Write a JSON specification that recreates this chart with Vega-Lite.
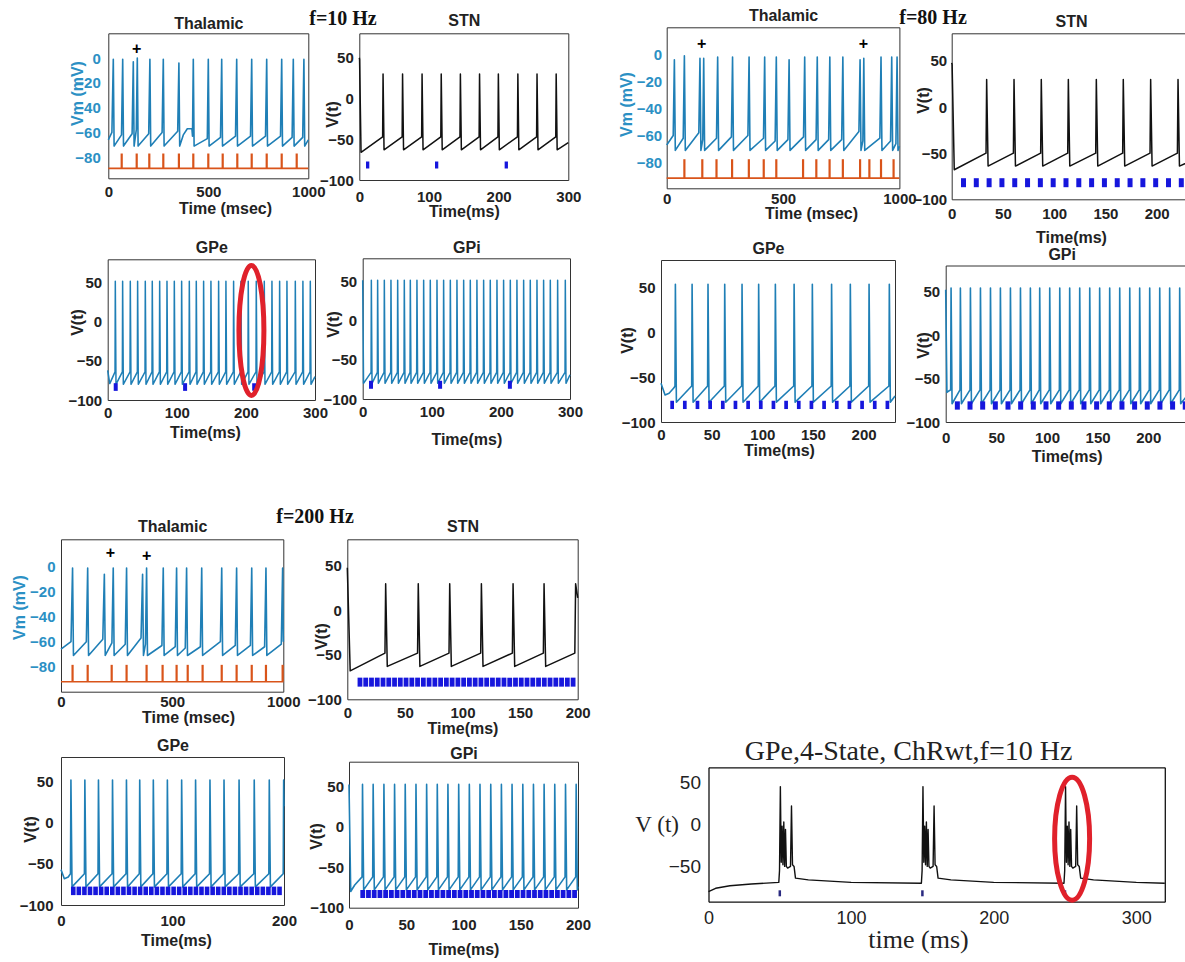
{
"$schema":"https://vega.github.io/schema/vega-lite/v6.json",
"width":1185,"height":962,"autosize":"none","padding":0,"background":"white",
"config":{"view":{"stroke":null},
"axis":{"grid":false,"ticks":false,"tickSize":0,"domainColor":"#333333","domainWidth":1,"labelFont":"Liberation Sans","labelFontSize":15,"labelFontWeight":"bold","labelColor":"#222222","labelFlush":false,"labelOverlap":false,"labelPadding":6,"titleFont":"Liberation Sans","titleFontSize":16,"titleFontWeight":"bold","titleColor":"#222222","titleBaseline":"alphabetic","titlePadding":0}},
"datasets":{
"a_th":[{"t":0,"v":-66},{"t":18,"v":-60},{"t":25,"v":-1},{"t":29,"v":-71},{"t":66,"v":-62},{"t":72,"v":-1},{"t":76,"v":-71},{"t":119,"v":-61},{"t":125,"v":-3},{"t":129,"v":-71},{"t":140,"v":-58},{"t":145,"v":0},{"t":149,"v":-71},{"t":202,"v":-61},{"t":208,"v":-1},{"t":212,"v":-71},{"t":269,"v":-60},{"t":275,"v":-1},{"t":279,"v":-71},{"t":347,"v":-59},{"t":353,"v":-4},{"t":357,"v":-71},{"t":375,"v":-62},{"t":395,"v":-57},{"t":418,"v":-57},{"t":421,"v":-63},{"t":425,"v":-1},{"t":429,"v":-71},{"t":495,"v":-65},{"t":500,"v":-1},{"t":504,"v":-71},{"t":561,"v":-64},{"t":567,"v":-1},{"t":571,"v":-71},{"t":636,"v":-63},{"t":642,"v":-1},{"t":646,"v":-71},{"t":711,"v":-63},{"t":717,"v":-1},{"t":721,"v":-71},{"t":786,"v":-63},{"t":792,"v":-1},{"t":796,"v":-71},{"t":861,"v":-63},{"t":867,"v":-1},{"t":871,"v":-71},{"t":919,"v":-64},{"t":925,"v":-1},{"t":929,"v":-71},{"t":972,"v":-64},{"t":978,"v":-1},{"t":982,"v":-71},{"t":1000,"v":-66}],
"a_th_p":[{"t":67},{"t":142},{"t":205},{"t":275},{"t":353},{"t":425},{"t":500},{"t":572},{"t":645},{"t":717},{"t":792},{"t":867},{"t":942}],
"a_th_m":[{"t":142,"v":7}],
"a_stn":[{"t":0,"v":50},{"t":0.4,"v":48},{"t":2.5,"v":-66},{"t":33.5,"v":-47},{"t":34.1,"v":30},{"t":35.5,"v":-63},{"t":61.5,"v":-47},{"t":62.1,"v":30},{"t":63.5,"v":-63},{"t":89.5,"v":-47},{"t":90.1,"v":30},{"t":91.5,"v":-63},{"t":117,"v":-47},{"t":117.6,"v":30},{"t":119,"v":-63},{"t":144.5,"v":-47},{"t":145.1,"v":30},{"t":146.5,"v":-63},{"t":172,"v":-47},{"t":172.6,"v":30},{"t":174,"v":-63},{"t":199,"v":-47},{"t":199.6,"v":30},{"t":201,"v":-63},{"t":227,"v":-47},{"t":227.6,"v":30},{"t":229,"v":-63},{"t":254.5,"v":-47},{"t":255.1,"v":30},{"t":256.5,"v":-63},{"t":282,"v":-47},{"t":282.6,"v":30},{"t":284,"v":-63},{"t":300,"v":-54}],
"a_stn_s":[{"t":12},{"t":111},{"t":211}],
"lab_a":[{"t":-23.4,"v":90,"label":"f=10 Hz"}],
"a_gpe":[{"t":0,"v":-62},{"t":3,"v":-79},{"t":10.6,"v":-64},{"t":11,"v":52},{"t":12,"v":-80},{"t":21.2,"v":-64},{"t":21.6,"v":52},{"t":22.6,"v":-80},{"t":32.3,"v":-64},{"t":32.7,"v":52},{"t":33.7,"v":-80},{"t":42.9,"v":-64},{"t":43.3,"v":52},{"t":44.3,"v":-80},{"t":54,"v":-64},{"t":54.4,"v":52},{"t":55.4,"v":-80},{"t":64.1,"v":-64},{"t":64.5,"v":52},{"t":65.5,"v":-80},{"t":74.8,"v":-64},{"t":75.2,"v":52},{"t":76.2,"v":-80},{"t":85.4,"v":-64},{"t":85.8,"v":52},{"t":86.8,"v":-80},{"t":96,"v":-64},{"t":96.4,"v":52},{"t":97.4,"v":-80},{"t":106.6,"v":-64},{"t":107,"v":52},{"t":108,"v":-80},{"t":117.7,"v":-64},{"t":118.1,"v":52},{"t":119.1,"v":-80},{"t":127.8,"v":-64},{"t":128.2,"v":52},{"t":129.2,"v":-80},{"t":138.4,"v":-64},{"t":138.8,"v":52},{"t":139.8,"v":-80},{"t":149,"v":-64},{"t":149.4,"v":52},{"t":150.4,"v":-80},{"t":160.1,"v":-64},{"t":160.5,"v":52},{"t":161.5,"v":-80},{"t":170.7,"v":-64},{"t":171.1,"v":52},{"t":172.1,"v":-80},{"t":181.8,"v":-64},{"t":182.2,"v":52},{"t":183.2,"v":-80},{"t":192.4,"v":-64},{"t":192.8,"v":52},{"t":193.8,"v":-80},{"t":203,"v":-64},{"t":203.4,"v":52},{"t":204.4,"v":-80},{"t":214.6,"v":-64},{"t":215,"v":52},{"t":216,"v":-80},{"t":226.2,"v":-64},{"t":226.6,"v":52},{"t":227.6,"v":-80},{"t":237.3,"v":-64},{"t":237.7,"v":52},{"t":238.7,"v":-80},{"t":248.4,"v":-64},{"t":248.8,"v":52},{"t":249.8,"v":-80},{"t":259,"v":-64},{"t":259.4,"v":52},{"t":260.4,"v":-80},{"t":271.1,"v":-64},{"t":271.5,"v":52},{"t":272.5,"v":-80},{"t":282.1,"v":-64},{"t":282.5,"v":52},{"t":283.5,"v":-80},{"t":292.8,"v":-64},{"t":293.2,"v":52},{"t":294.2,"v":-80},{"t":300,"v":-70}],
"a_gpe_s":[{"t":11.6},{"t":112},{"t":212}],
"a_gpe_e":[{"t":208,"v":-11}],
"a_gpi":[{"t":0,"v":52},{"t":1.2,"v":-80},{"t":12.1,"v":-66},{"t":12.5,"v":52},{"t":13.5,"v":-80},{"t":21.2,"v":-66},{"t":21.6,"v":52},{"t":22.6,"v":-80},{"t":30.9,"v":-66},{"t":31.3,"v":52},{"t":32.3,"v":-80},{"t":40.5,"v":-66},{"t":40.9,"v":52},{"t":41.9,"v":-80},{"t":50.2,"v":-66},{"t":50.6,"v":52},{"t":51.6,"v":-80},{"t":59.8,"v":-66},{"t":60.2,"v":52},{"t":61.2,"v":-80},{"t":68.5,"v":-66},{"t":68.9,"v":52},{"t":69.9,"v":-80},{"t":78.1,"v":-66},{"t":78.5,"v":52},{"t":79.5,"v":-80},{"t":87.8,"v":-66},{"t":88.2,"v":52},{"t":89.2,"v":-80},{"t":97.4,"v":-66},{"t":97.8,"v":52},{"t":98.8,"v":-80},{"t":107.1,"v":-66},{"t":107.5,"v":52},{"t":108.5,"v":-80},{"t":116.7,"v":-66},{"t":117.1,"v":52},{"t":118.1,"v":-80},{"t":126.4,"v":-66},{"t":126.8,"v":52},{"t":127.8,"v":-80},{"t":136,"v":-66},{"t":136.4,"v":52},{"t":137.4,"v":-80},{"t":145.7,"v":-66},{"t":146.1,"v":52},{"t":147.1,"v":-80},{"t":155.3,"v":-66},{"t":155.7,"v":52},{"t":156.7,"v":-80},{"t":164.9,"v":-66},{"t":165.3,"v":52},{"t":166.3,"v":-80},{"t":174.6,"v":-66},{"t":175,"v":52},{"t":176,"v":-80},{"t":184.2,"v":-66},{"t":184.6,"v":52},{"t":185.6,"v":-80},{"t":193.9,"v":-66},{"t":194.3,"v":52},{"t":195.3,"v":-80},{"t":203.5,"v":-66},{"t":203.9,"v":52},{"t":204.9,"v":-80},{"t":213.2,"v":-66},{"t":213.6,"v":52},{"t":214.6,"v":-80},{"t":222.8,"v":-66},{"t":223.2,"v":52},{"t":224.2,"v":-80},{"t":232.5,"v":-66},{"t":232.9,"v":52},{"t":233.9,"v":-80},{"t":242.1,"v":-66},{"t":242.5,"v":52},{"t":243.5,"v":-80},{"t":251.8,"v":-66},{"t":252.2,"v":52},{"t":253.2,"v":-80},{"t":261.4,"v":-66},{"t":261.8,"v":52},{"t":262.8,"v":-80},{"t":271.1,"v":-66},{"t":271.5,"v":52},{"t":272.5,"v":-80},{"t":281.7,"v":-66},{"t":282.1,"v":52},{"t":283.1,"v":-80},{"t":292.8,"v":-66},{"t":293.2,"v":52},{"t":294.2,"v":-80},{"t":300,"v":-69}],
"a_gpi_s":[{"t":12},{"t":112},{"t":213}],
"b_th":[{"t":0,"v":-67},{"t":28,"v":-60},{"t":33,"v":-4},{"t":37,"v":-71},{"t":71,"v":-62},{"t":76,"v":-1},{"t":80,"v":-71},{"t":138,"v":-58},{"t":143,"v":-3},{"t":147,"v":-71},{"t":155,"v":-63},{"t":159,"v":-3},{"t":163,"v":-71},{"t":214,"v":-62},{"t":219,"v":-2},{"t":223,"v":-71},{"t":278,"v":-61},{"t":283,"v":-2},{"t":287,"v":-71},{"t":349,"v":-60},{"t":354,"v":-2},{"t":358,"v":-71},{"t":416,"v":-62},{"t":421,"v":-2},{"t":425,"v":-71},{"t":466,"v":-64},{"t":471,"v":-2},{"t":475,"v":-71},{"t":521,"v":-63},{"t":526,"v":-4},{"t":530,"v":-71},{"t":588,"v":-61},{"t":593,"v":-2},{"t":597,"v":-71},{"t":642,"v":-63},{"t":647,"v":-2},{"t":651,"v":-71},{"t":696,"v":-63},{"t":701,"v":-2},{"t":705,"v":-71},{"t":752,"v":-63},{"t":757,"v":-2},{"t":761,"v":-71},{"t":826,"v":-57},{"t":831,"v":-4},{"t":835,"v":-71},{"t":843,"v":-64},{"t":847,"v":-3},{"t":851,"v":-71},{"t":916,"v":-62},{"t":921,"v":-2},{"t":925,"v":-71},{"t":962,"v":-64},{"t":967,"v":-2},{"t":971,"v":-71},{"t":985,"v":-66},{"t":990,"v":-2},{"t":994,"v":-71},{"t":1000,"v":-68}],
"b_th_p":[{"t":76},{"t":153},{"t":214},{"t":281},{"t":353},{"t":417},{"t":471},{"t":586},{"t":643},{"t":700},{"t":757},{"t":831},{"t":871},{"t":921},{"t":975}],
"b_th_m":[{"t":150,"v":8},{"t":845,"v":8}],
"b_stn":[{"t":0,"v":48},{"t":0.4,"v":46},{"t":2.5,"v":-68},{"t":33.5,"v":-50},{"t":34.1,"v":30},{"t":35.5,"v":-64},{"t":60.2,"v":-50},{"t":60.8,"v":30},{"t":62.2,"v":-64},{"t":86.8,"v":-50},{"t":87.4,"v":30},{"t":88.8,"v":-64},{"t":113.2,"v":-50},{"t":113.8,"v":30},{"t":115.2,"v":-64},{"t":140.5,"v":-50},{"t":141.1,"v":30},{"t":142.5,"v":-64},{"t":166.8,"v":-50},{"t":167.4,"v":30},{"t":168.8,"v":-64},{"t":193.5,"v":-50},{"t":194.1,"v":30},{"t":195.5,"v":-64},{"t":220.2,"v":-50},{"t":220.8,"v":30},{"t":222.2,"v":-64},{"t":240,"v":-55}],
"b_stn_s":[{"t":11.5},{"t":24},{"t":36.5},{"t":49},{"t":61.5},{"t":74},{"t":86.5},{"t":99},{"t":111.5},{"t":124},{"t":136.5},{"t":149},{"t":161.5},{"t":174},{"t":186.5},{"t":199},{"t":211.5},{"t":224},{"t":236.5}],
"lab_b":[{"t":-18.2,"v":90,"label":"f=80 Hz"}],
"b_gpe":[{"t":0,"v":-57},{"t":4,"v":-70},{"t":8,"v":-68},{"t":12.8,"v":-62},{"t":13.8,"v":-60},{"t":14.2,"v":53},{"t":15.2,"v":-78},{"t":30.3,"v":-60},{"t":30.7,"v":53},{"t":31.7,"v":-78},{"t":46,"v":-60},{"t":46.4,"v":53},{"t":47.4,"v":-78},{"t":62.5,"v":-60},{"t":62.9,"v":53},{"t":63.9,"v":-78},{"t":79.6,"v":-60},{"t":80,"v":53},{"t":81,"v":-78},{"t":96,"v":-60},{"t":96.4,"v":53},{"t":97.4,"v":-78},{"t":112.5,"v":-60},{"t":112.9,"v":53},{"t":113.9,"v":-78},{"t":131,"v":-60},{"t":131.4,"v":53},{"t":132.4,"v":-78},{"t":149,"v":-60},{"t":149.4,"v":53},{"t":150.4,"v":-78},{"t":168,"v":-60},{"t":168.4,"v":53},{"t":169.4,"v":-78},{"t":186.5,"v":-60},{"t":186.9,"v":53},{"t":187.9,"v":-78},{"t":205,"v":-60},{"t":205.4,"v":53},{"t":206.4,"v":-78},{"t":225,"v":-60},{"t":225.4,"v":53},{"t":226.4,"v":-78},{"t":231,"v":-71}],
"b_gpe_s":[{"t":11},{"t":23.5},{"t":36},{"t":48.5},{"t":61},{"t":73.5},{"t":86},{"t":98.5},{"t":111},{"t":123.5},{"t":136},{"t":148.5},{"t":161},{"t":173.5},{"t":186},{"t":198.5},{"t":211},{"t":223.5}],
"b_gpi":[{"t":0,"v":52},{"t":1.2,"v":-66},{"t":3.5,"v":-64},{"t":4.9,"v":-63},{"t":5.3,"v":54},{"t":6.3,"v":-79},{"t":14.1,"v":-63},{"t":14.5,"v":54},{"t":15.5,"v":-79},{"t":24,"v":-63},{"t":24.4,"v":54},{"t":25.4,"v":-79},{"t":33.9,"v":-63},{"t":34.3,"v":54},{"t":35.3,"v":-79},{"t":43.8,"v":-63},{"t":44.2,"v":54},{"t":45.2,"v":-79},{"t":53.6,"v":-63},{"t":54,"v":54},{"t":55,"v":-79},{"t":63.5,"v":-63},{"t":63.9,"v":54},{"t":64.9,"v":-79},{"t":73.4,"v":-63},{"t":73.8,"v":54},{"t":74.8,"v":-79},{"t":83.2,"v":-63},{"t":83.6,"v":54},{"t":84.6,"v":-79},{"t":92.4,"v":-63},{"t":92.8,"v":54},{"t":93.8,"v":-79},{"t":102.3,"v":-63},{"t":102.7,"v":54},{"t":103.7,"v":-79},{"t":112.2,"v":-63},{"t":112.6,"v":54},{"t":113.6,"v":-79},{"t":122,"v":-63},{"t":122.4,"v":54},{"t":123.4,"v":-79},{"t":131.9,"v":-63},{"t":132.3,"v":54},{"t":133.3,"v":-79},{"t":141.8,"v":-63},{"t":142.2,"v":54},{"t":143.2,"v":-79},{"t":151.6,"v":-63},{"t":152,"v":54},{"t":153,"v":-79},{"t":161.5,"v":-63},{"t":161.9,"v":54},{"t":162.9,"v":-79},{"t":171.4,"v":-63},{"t":171.8,"v":54},{"t":172.8,"v":-79},{"t":181.3,"v":-63},{"t":181.7,"v":54},{"t":182.7,"v":-79},{"t":191.1,"v":-63},{"t":191.5,"v":54},{"t":192.5,"v":-79},{"t":201,"v":-63},{"t":201.4,"v":54},{"t":202.4,"v":-79},{"t":210.9,"v":-63},{"t":211.3,"v":54},{"t":212.3,"v":-79},{"t":220.7,"v":-63},{"t":221.1,"v":54},{"t":222.1,"v":-79},{"t":230.6,"v":-63},{"t":231,"v":54},{"t":232,"v":-79},{"t":240,"v":-67}],
"b_gpi_s":[{"t":11.5},{"t":24},{"t":36.5},{"t":49},{"t":61.5},{"t":74},{"t":86.5},{"t":99},{"t":111.5},{"t":124},{"t":136.5},{"t":149},{"t":161.5},{"t":174},{"t":186.5},{"t":199},{"t":211.5},{"t":224},{"t":236.5}],
"c_th":[{"t":0,"v":-66},{"t":45,"v":-60},{"t":52,"v":-1},{"t":56,"v":-71},{"t":114,"v":-60},{"t":120,"v":-1},{"t":124,"v":-71},{"t":188,"v":-58},{"t":195,"v":-6},{"t":199,"v":-71},{"t":229,"v":-61},{"t":235,"v":-1},{"t":239,"v":-71},{"t":289,"v":-62},{"t":295,"v":-1},{"t":299,"v":-71},{"t":360,"v":-57},{"t":367,"v":-6},{"t":371,"v":-71},{"t":380,"v":-62},{"t":385,"v":-1},{"t":389,"v":-71},{"t":454,"v":-63},{"t":460,"v":-1},{"t":464,"v":-71},{"t":514,"v":-64},{"t":520,"v":-1},{"t":524,"v":-71},{"t":559,"v":-65},{"t":565,"v":-1},{"t":569,"v":-71},{"t":627,"v":-64},{"t":633,"v":-1},{"t":637,"v":-71},{"t":717,"v":-60},{"t":723,"v":-1},{"t":727,"v":-71},{"t":784,"v":-63},{"t":790,"v":-1},{"t":794,"v":-71},{"t":852,"v":-63},{"t":858,"v":-1},{"t":862,"v":-71},{"t":916,"v":-64},{"t":922,"v":-1},{"t":926,"v":-71},{"t":991,"v":-62},{"t":997,"v":-1},{"t":1000,"v":-60}],
"c_th_p":[{"t":52},{"t":120},{"t":228},{"t":295},{"t":385},{"t":457},{"t":520},{"t":570},{"t":637},{"t":723},{"t":790},{"t":858},{"t":922},{"t":997}],
"c_th_m":[{"t":222,"v":10.8},{"t":385,"v":8.6}],
"c_stn":[{"t":0,"v":48},{"t":0.4,"v":30},{"t":2.5,"v":-68},{"t":32.7,"v":-48},{"t":33.3,"v":30},{"t":34.7,"v":-63},{"t":61,"v":-48},{"t":61.6,"v":30},{"t":63,"v":-63},{"t":88.3,"v":-48},{"t":88.9,"v":30},{"t":90.3,"v":-63},{"t":115.8,"v":-48},{"t":116.4,"v":30},{"t":117.8,"v":-63},{"t":143.3,"v":-48},{"t":143.9,"v":30},{"t":145.3,"v":-63},{"t":170.2,"v":-48},{"t":170.8,"v":30},{"t":172.2,"v":-63},{"t":197.5,"v":-48},{"t":198.2,"v":30},{"t":200,"v":14}],
"c_s":[{"t":11},{"t":16},{"t":21},{"t":26},{"t":31},{"t":36},{"t":41},{"t":46},{"t":51},{"t":56},{"t":61},{"t":66},{"t":71},{"t":76},{"t":81},{"t":86},{"t":91},{"t":96},{"t":101},{"t":106},{"t":111},{"t":116},{"t":121},{"t":126},{"t":131},{"t":136},{"t":141},{"t":146},{"t":151},{"t":156},{"t":161},{"t":166},{"t":171},{"t":176},{"t":181},{"t":186},{"t":191},{"t":196}],
"lab_c":[{"t":-28,"v":98,"label":"f=200 Hz"}],
"c_gpe":[{"t":0,"v":-57},{"t":3,"v":-68},{"t":6.5,"v":-66},{"t":8.5,"v":-62},{"t":8.9,"v":52},{"t":9.9,"v":-78},{"t":21,"v":-62},{"t":21.4,"v":52},{"t":22.4,"v":-78},{"t":33.2,"v":-62},{"t":33.6,"v":52},{"t":34.6,"v":-78},{"t":45.8,"v":-62},{"t":46.2,"v":52},{"t":47.2,"v":-78},{"t":58.3,"v":-62},{"t":58.7,"v":52},{"t":59.7,"v":-78},{"t":70.2,"v":-62},{"t":70.6,"v":52},{"t":71.6,"v":-78},{"t":82.4,"v":-62},{"t":82.8,"v":52},{"t":83.8,"v":-78},{"t":95,"v":-62},{"t":95.4,"v":52},{"t":96.4,"v":-78},{"t":107.8,"v":-62},{"t":108.2,"v":52},{"t":109.2,"v":-78},{"t":120.3,"v":-62},{"t":120.7,"v":52},{"t":121.7,"v":-78},{"t":133.2,"v":-62},{"t":133.6,"v":52},{"t":134.6,"v":-78},{"t":145.8,"v":-62},{"t":146.2,"v":52},{"t":147.2,"v":-78},{"t":159.3,"v":-62},{"t":159.7,"v":52},{"t":160.7,"v":-78},{"t":172.9,"v":-62},{"t":173.3,"v":52},{"t":174.3,"v":-78},{"t":186.4,"v":-62},{"t":186.8,"v":52},{"t":187.8,"v":-78},{"t":199.3,"v":-62},{"t":199.7,"v":52},{"t":200,"v":20}],
"c_gpi":[{"t":0,"v":52},{"t":1.5,"v":-80},{"t":5,"v":-72},{"t":11.4,"v":-62},{"t":11.8,"v":52},{"t":12.8,"v":-78},{"t":20.7,"v":-62},{"t":21.1,"v":52},{"t":22.1,"v":-78},{"t":30.1,"v":-62},{"t":30.5,"v":52},{"t":31.5,"v":-78},{"t":39.4,"v":-62},{"t":39.8,"v":52},{"t":40.8,"v":-78},{"t":48.7,"v":-62},{"t":49.1,"v":52},{"t":50.1,"v":-78},{"t":58.1,"v":-62},{"t":58.5,"v":52},{"t":59.5,"v":-78},{"t":67.4,"v":-62},{"t":67.8,"v":52},{"t":68.8,"v":-78},{"t":76.7,"v":-62},{"t":77.1,"v":52},{"t":78.1,"v":-78},{"t":86,"v":-62},{"t":86.4,"v":52},{"t":87.4,"v":-78},{"t":95.4,"v":-62},{"t":95.8,"v":52},{"t":96.8,"v":-78},{"t":104.7,"v":-62},{"t":105.1,"v":52},{"t":106.1,"v":-78},{"t":114,"v":-62},{"t":114.4,"v":52},{"t":115.4,"v":-78},{"t":123.4,"v":-62},{"t":123.8,"v":52},{"t":124.8,"v":-78},{"t":132.7,"v":-62},{"t":133.1,"v":52},{"t":134.1,"v":-78},{"t":142,"v":-62},{"t":142.4,"v":52},{"t":143.4,"v":-78},{"t":151.4,"v":-62},{"t":151.8,"v":52},{"t":152.8,"v":-78},{"t":160.7,"v":-62},{"t":161.1,"v":52},{"t":162.1,"v":-78},{"t":170,"v":-62},{"t":170.4,"v":52},{"t":171.4,"v":-78},{"t":179.3,"v":-62},{"t":179.7,"v":52},{"t":180.7,"v":-78},{"t":188.7,"v":-62},{"t":189.1,"v":52},{"t":190.1,"v":-78},{"t":198,"v":-62},{"t":198.4,"v":52},{"t":199.4,"v":-78},{"t":200,"v":-74}],
"c_gpi_s":[{"t":12},{"t":17},{"t":22},{"t":27},{"t":32},{"t":37},{"t":42},{"t":47},{"t":52},{"t":57},{"t":62},{"t":67},{"t":72},{"t":77},{"t":82},{"t":87},{"t":92},{"t":97},{"t":102},{"t":107},{"t":112},{"t":117},{"t":122},{"t":127},{"t":132},{"t":137},{"t":142},{"t":147},{"t":152},{"t":157},{"t":162},{"t":167},{"t":172},{"t":177},{"t":182},{"t":187},{"t":192},{"t":197}],
"d_tr":[{"t":0,"v":-80},{"t":5,"v":-76},{"t":15,"v":-73},{"t":30,"v":-71},{"t":49.3,"v":-69},{"t":49.8,"v":-55},{"t":50.4,"v":45},{"t":51,"v":-45},{"t":51.6,"v":-2},{"t":52.2,"v":-48},{"t":52.8,"v":3},{"t":53.4,"v":-50},{"t":54,"v":-6},{"t":54.6,"v":-50},{"t":55.5,"v":-52},{"t":57.5,"v":-50},{"t":58.2,"v":22},{"t":58.9,"v":-48},{"t":60,"v":-50},{"t":61,"v":-64},{"t":70,"v":-66},{"t":100,"v":-69},{"t":149.3,"v":-70},{"t":149.8,"v":-55},{"t":150.4,"v":45},{"t":151,"v":-45},{"t":151.6,"v":-2},{"t":152.2,"v":-48},{"t":152.8,"v":3},{"t":153.4,"v":-50},{"t":154,"v":-6},{"t":154.6,"v":-50},{"t":155.5,"v":-52},{"t":157.5,"v":-50},{"t":158.2,"v":22},{"t":158.9,"v":-48},{"t":160,"v":-50},{"t":161,"v":-64},{"t":170,"v":-66},{"t":200,"v":-69},{"t":249.3,"v":-70},{"t":249.8,"v":-55},{"t":250.4,"v":45},{"t":251,"v":-45},{"t":251.6,"v":-2},{"t":252.2,"v":-48},{"t":252.8,"v":3},{"t":253.4,"v":-50},{"t":254,"v":-6},{"t":254.6,"v":-50},{"t":255.5,"v":-52},{"t":257.5,"v":-50},{"t":258.2,"v":22},{"t":258.9,"v":-48},{"t":260,"v":-50},{"t":261,"v":-64},{"t":270,"v":-66},{"t":300,"v":-69},{"t":320,"v":-70}],
"d_s":[{"t":50},{"t":150},{"t":250}],
"d_e":[{"t":255,"v":-17}]
},
"layer":[
{"layer":[
{"data":{"name":"a_th"},"mark":{"type":"line","color":"#1f7fb6","strokeWidth":1.6,"strokeJoin":"round"},"encoding":{"x":{"field":"t","type":"quantitative","scale":{"domain":[0,1000],"range":[108.3,308.3],"zero":false,"nice":false},"axis":{"orient":"bottom","offset":-783.7,"values":[0,500,1000],"format":"d","labelPadding":6,"title":"Time (msec)","titleX":225,"titleY":35.5}},"y":{"field":"v","type":"quantitative","scale":{"domain":[-97,20],"range":[178.3,33.3],"zero":false,"nice":false},"axis":{"orient":"left","offset":-108.3,"values":[-80,-60,-40,-20,0],"labelPadding":8,"labelColor":"#2b90c4","title":"Vm (mV)","titleColor":"#2b90c4","titleX":-26,"titleY":93}}}},
{"data":{"name":"a_th_p"},"mark":{"type":"rule","color":"#d9541a","strokeWidth":2.2},"encoding":{"x":{"field":"t","type":"quantitative","axis":{"orient":"top","offset":-33.3,"labels":false,"title":"Thalamic","titleY":-5.3}},"y":{"datum":-89,"axis":{"orient":"right","offset":-876.7,"labels":false,"title":null}},"y2":{"datum":-77}}},
{"data":{"values":[{}]},"mark":{"type":"rule","color":"#d9541a","strokeWidth":1.6},"encoding":{"x":{"datum":0,"axis":null},"x2":{"datum":1000},"y":{"datum":-89,"axis":null}}},
{"data":{"name":"a_th_m"},"mark":{"type":"text","text":"+","fontSize":16,"fontWeight":"bold","color":"#000000","font":"Liberation Sans"},"encoding":{"x":{"field":"t","type":"quantitative","axis":null},"y":{"field":"v","type":"quantitative","axis":null}}}
],"resolve":{"axis":{"x":"independent","y":"independent"}}},
{"layer":[
{"data":{"name":"a_stn"},"mark":{"type":"line","color":"#111111","strokeWidth":1.5,"strokeJoin":"round"},"encoding":{"x":{"field":"t","type":"quantitative","scale":{"domain":[0,300],"range":[359.3,568.3],"zero":false,"nice":false},"axis":{"orient":"bottom","offset":-782,"values":[0,100,200,300],"labelPadding":9,"title":"Time(ms)","titleY":36}},"y":{"field":"v","type":"quantitative","scale":{"domain":[-100,80],"range":[180,33.3],"zero":false,"nice":false},"axis":{"orient":"left","offset":-359.3,"values":[-100,-50,0,50],"title":"V(t)","titleX":-22,"titleY":114}}}},
{"data":{"name":"a_stn_s"},"mark":{"type":"tick","orient":"vertical","color":"#1616dc","thickness":3.3,"size":7,"opacity":1},"encoding":{"x":{"field":"t","type":"quantitative","axis":{"orient":"top","offset":-33.3,"labels":false,"title":"STN","titleY":-8.3}},"y":{"datum":-81.6,"axis":{"orient":"right","offset":-616.7,"labels":false,"title":null}}}},
{"data":{"name":"lab_a"},"mark":{"type":"text","font":"Liberation Serif","fontWeight":"bold","fontSize":20,"align":"center","baseline":"alphabetic","color":"#111111"},"encoding":{"x":{"field":"t","type":"quantitative","axis":null},"y":{"field":"v","type":"quantitative","axis":null},"text":{"field":"label"}}}
],"resolve":{"axis":{"x":"independent","y":"independent"}}},
{"layer":[
{"data":{"name":"a_gpe"},"mark":{"type":"line","color":"#1f7fb6","strokeWidth":1.5,"strokeJoin":"round"},"encoding":{"x":{"field":"t","type":"quantitative","scale":{"domain":[0,300],"range":[107.7,315],"zero":false,"nice":false},"axis":{"orient":"bottom","offset":-562,"values":[0,100,200,300],"labelPadding":5,"title":"Time(ms)","titleX":205,"titleY":37}},"y":{"field":"v","type":"quantitative","scale":{"domain":[-100,80],"range":[400,259.3],"zero":false,"nice":false},"axis":{"orient":"left","offset":-107.7,"values":[-100,-50,0,50],"title":"V(t)","titleX":-25,"titleY":322}}}},
{"data":{"name":"a_gpe_s"},"mark":{"type":"tick","orient":"vertical","color":"#1616dc","thickness":4,"size":7.7,"opacity":1},"encoding":{"x":{"field":"t","type":"quantitative","axis":{"orient":"top","offset":-259.3,"labels":false,"title":"GPe","titleY":-6.3}},"y":{"datum":-83.4,"axis":{"orient":"right","offset":-870,"labels":false,"title":null}}}},
{"data":{"name":"a_gpe_e"},"mark":{"type":"point","shape":"M0,-1C0.106,-1 0.192,-0.5523 0.192,0C0.192,0.5523 0.106,1 0,1C-0.106,1 -0.192,0.5523 -0.192,0C-0.192,-0.5523 -0.106,-1 0,-1Z","size":16900,"filled":false,"stroke":"#e0212b","strokeWidth":5,"opacity":1},"encoding":{"x":{"field":"t","type":"quantitative","axis":null},"y":{"field":"v","type":"quantitative","axis":null}}}
],"resolve":{"axis":{"x":"independent","y":"independent"}}},
{"layer":[
{"data":{"name":"a_gpi"},"mark":{"type":"line","color":"#1f7fb6","strokeWidth":1.5,"strokeJoin":"round"},"encoding":{"x":{"field":"t","type":"quantitative","scale":{"domain":[0,300],"range":[362.7,570],"zero":false,"nice":false},"axis":{"orient":"bottom","offset":-563,"values":[0,100,200,300],"labelPadding":5,"title":"Time(ms)","titleY":45}},"y":{"field":"v","type":"quantitative","scale":{"domain":[-100,80],"range":[399,258.3],"zero":false,"nice":false},"axis":{"orient":"left","offset":-362.7,"values":[-100,-50,0,50],"title":"V(t)","titleX":-24,"titleY":324}}}},
{"data":{"name":"a_gpi_s"},"mark":{"type":"tick","orient":"vertical","color":"#1616dc","thickness":4,"size":8,"opacity":1},"encoding":{"x":{"field":"t","type":"quantitative","axis":{"orient":"top","offset":-258.3,"labels":false,"title":"GPi","titleY":-5.3}},"y":{"datum":-81.8,"axis":{"orient":"right","offset":-615,"labels":false,"title":null}}}}
],"resolve":{"axis":{"x":"independent","y":"independent"}}},
{"layer":[
{"data":{"name":"b_th"},"mark":{"type":"line","color":"#1f7fb6","strokeWidth":1.6,"strokeJoin":"round"},"encoding":{"x":{"field":"t","type":"quantitative","scale":{"domain":[0,1000],"range":[666.7,899.4],"zero":false,"nice":false},"axis":{"orient":"bottom","offset":-773.7,"values":[0,500,1000],"format":"d","labelPadding":3,"title":"Time (msec)","titleX":811,"titleY":30.5}},"y":{"field":"v","type":"quantitative","scale":{"domain":[-99,20],"range":[188.3,27.3],"zero":false,"nice":false},"axis":{"orient":"left","offset":-666.7,"values":[-80,-60,-40,-20,0],"labelPadding":5,"labelColor":"#2b90c4","title":"Vm (mV)","titleColor":"#2b90c4","titleX":-35,"titleY":104}}}},
{"data":{"name":"b_th_p"},"mark":{"type":"rule","color":"#d9541a","strokeWidth":2.2},"encoding":{"x":{"field":"t","type":"quantitative","axis":{"orient":"top","offset":-27.3,"labels":false,"title":"Thalamic","titleY":-7.3}},"y":{"datum":-91.5,"axis":{"orient":"right","offset":-285.6,"labels":false,"title":null}},"y2":{"datum":-77.5}}},
{"data":{"values":[{}]},"mark":{"type":"rule","color":"#d9541a","strokeWidth":1.6},"encoding":{"x":{"datum":0,"axis":null},"x2":{"datum":1000},"y":{"datum":-91.5,"axis":null}}},
{"data":{"name":"b_th_m"},"mark":{"type":"text","text":"+","fontSize":16,"fontWeight":"bold","color":"#000000","font":"Liberation Sans"},"encoding":{"x":{"field":"t","type":"quantitative","axis":null},"y":{"field":"v","type":"quantitative","axis":null}}}
],"resolve":{"axis":{"x":"independent","y":"independent"}}},
{"layer":[
{"data":{"name":"b_stn"},"mark":{"type":"line","color":"#111111","strokeWidth":1.5,"strokeJoin":"round"},"encoding":{"x":{"field":"t","type":"quantitative","scale":{"domain":[0,240],"range":[951.7,1197.7],"zero":false,"nice":false},"axis":{"orient":"bottom","offset":-762.7,"values":[0,50,100,150,200],"labelPadding":7,"title":"Time(ms)","titleX":1071,"titleY":42.7}},"y":{"field":"v","type":"quantitative","scale":{"domain":[-100,80],"range":[199.3,33.3],"zero":false,"nice":false},"axis":{"orient":"left","offset":-951.7,"values":[-100,-50,0,50],"labelPadding":5,"title":"V(t)","titleX":-23,"titleY":100}}}},
{"data":{"name":"b_stn_s"},"mark":{"type":"tick","orient":"vertical","color":"#1616dc","thickness":5,"size":9,"opacity":1},"encoding":{"x":{"field":"t","type":"quantitative","axis":{"orient":"top","offset":-33.3,"labels":false,"title":"STN","titleX":1071,"titleY":-6.6}},"y":{"datum":-82,"axis":{"orient":"right","offset":12.7,"labels":false,"title":null}}}},
{"data":{"name":"lab_b"},"mark":{"type":"text","font":"Liberation Serif","fontWeight":"bold","fontSize":20,"align":"center","baseline":"alphabetic","color":"#111111"},"encoding":{"x":{"field":"t","type":"quantitative","axis":null},"y":{"field":"v","type":"quantitative","axis":null},"text":{"field":"label"}}}
],"resolve":{"axis":{"x":"independent","y":"independent"}}},
{"layer":[
{"data":{"name":"b_gpe"},"mark":{"type":"line","color":"#1f7fb6","strokeWidth":1.6,"strokeJoin":"round"},"encoding":{"x":{"field":"t","type":"quantitative","scale":{"domain":[0,231],"range":[661,895],"zero":false,"nice":false},"axis":{"orient":"bottom","offset":-540,"values":[0,50,100,150,200],"labelPadding":5,"title":"Time(ms)","titleX":779,"titleY":33}},"y":{"field":"v","type":"quantitative","scale":{"domain":[-100,80],"range":[422,260],"zero":false,"nice":false},"axis":{"orient":"left","offset":-661,"values":[-100,-50,0,50],"title":"V(t)","titleX":-29,"titleY":340}}}},
{"data":{"name":"b_gpe_s"},"mark":{"type":"tick","orient":"vertical","color":"#1616dc","thickness":3.7,"size":8.3,"opacity":1},"encoding":{"x":{"field":"t","type":"quantitative","axis":{"orient":"top","offset":-260,"labels":false,"title":"GPe","titleX":768,"titleY":-7}},"y":{"datum":-81,"axis":{"orient":"right","offset":-290,"labels":false,"title":null}}}}
],"resolve":{"axis":{"x":"independent","y":"independent"}}},
{"layer":[
{"data":{"name":"b_gpi"},"mark":{"type":"line","color":"#1f7fb6","strokeWidth":1.6,"strokeJoin":"round"},"encoding":{"x":{"field":"t","type":"quantitative","scale":{"domain":[0,240],"range":[945.7,1188.8],"zero":false,"nice":false},"axis":{"orient":"bottom","offset":-540,"values":[0,50,100,150,200],"labelPadding":8,"title":"Time(ms)","titleX":1066.7,"titleY":39}},"y":{"field":"v","type":"quantitative","scale":{"domain":[-100,80],"range":[422,265.5],"zero":false,"nice":false},"axis":{"orient":"left","offset":-945.7,"values":[-100,-50,0,50],"title":"V(t)","titleX":-17,"titleY":345}}}},
{"data":{"name":"b_gpi_s"},"mark":{"type":"tick","orient":"vertical","color":"#1616dc","thickness":5,"size":8.3,"opacity":1},"encoding":{"x":{"field":"t","type":"quantitative","axis":{"orient":"top","offset":-265.5,"labels":false,"title":"GPi","titleX":1061.7,"titleY":-5.7}},"y":{"datum":-81,"axis":{"orient":"right","offset":3.8,"labels":false,"title":null}}}}
],"resolve":{"axis":{"x":"independent","y":"independent"}}},
{"layer":[
{"data":{"name":"c_th"},"mark":{"type":"line","color":"#1f7fb6","strokeWidth":1.6,"strokeJoin":"round"},"encoding":{"x":{"field":"t","type":"quantitative","scale":{"domain":[0,1000],"range":[61,283.3],"zero":false,"nice":false},"axis":{"orient":"bottom","offset":-270.3,"values":[0,500,1000],"format":"d","labelPadding":3,"title":"Time (msec)","titleX":188,"titleY":31}},"y":{"field":"v","type":"quantitative","scale":{"domain":[-100,22],"range":[691.7,539.3],"zero":false,"nice":false},"axis":{"orient":"left","offset":-61,"values":[-80,-60,-40,-20,0],"labelColor":"#2b90c4","title":"Vm (mV)","titleColor":"#2b90c4","titleX":-37,"titleY":607}}}},
{"data":{"name":"c_th_p"},"mark":{"type":"rule","color":"#d9541a","strokeWidth":2.2},"encoding":{"x":{"field":"t","type":"quantitative","axis":{"orient":"top","offset":-539.3,"labels":false,"title":"Thalamic","titleY":-7.6}},"y":{"datum":-92,"axis":{"orient":"right","offset":-901.7,"labels":false,"title":null}},"y2":{"datum":-78.5}}},
{"data":{"values":[{}]},"mark":{"type":"rule","color":"#d9541a","strokeWidth":1.6},"encoding":{"x":{"datum":0,"axis":null},"x2":{"datum":1000},"y":{"datum":-92,"axis":null}}},
{"data":{"name":"c_th_m"},"mark":{"type":"text","text":"+","fontSize":16,"fontWeight":"bold","color":"#000000","font":"Liberation Sans"},"encoding":{"x":{"field":"t","type":"quantitative","axis":null},"y":{"field":"v","type":"quantitative","axis":null}}}
],"resolve":{"axis":{"x":"independent","y":"independent"}}},
{"layer":[
{"data":{"name":"c_stn"},"mark":{"type":"line","color":"#111111","strokeWidth":1.5,"strokeJoin":"round"},"encoding":{"x":{"field":"t","type":"quantitative","scale":{"domain":[0,200],"range":[347.3,577.7],"zero":false,"nice":false},"axis":{"orient":"bottom","offset":-262.7,"values":[0,50,100,150,200],"labelPadding":6,"title":"Time(ms)","titleY":34}},"y":{"field":"v","type":"quantitative","scale":{"domain":[-100,80],"range":[699.3,539.3],"zero":false,"nice":false},"axis":{"orient":"left","offset":-347.3,"values":[-100,-50,0,50],"title":"V(t)","titleX":-21,"titleY":636}}}},
{"data":{"name":"c_s"},"mark":{"type":"tick","orient":"vertical","color":"#1616dc","thickness":4.8,"size":9,"opacity":1},"encoding":{"x":{"field":"t","type":"quantitative","axis":{"orient":"top","offset":-539.3,"labels":false,"title":"STN","titleY":-7.6}},"y":{"datum":-80.7,"axis":{"orient":"right","offset":-607.3,"labels":false,"title":null}}}},
{"data":{"name":"lab_c"},"mark":{"type":"text","font":"Liberation Serif","fontWeight":"bold","fontSize":20,"align":"center","baseline":"alphabetic","color":"#111111"},"encoding":{"x":{"field":"t","type":"quantitative","axis":null},"y":{"field":"v","type":"quantitative","axis":null},"text":{"field":"label"}}}
],"resolve":{"axis":{"x":"independent","y":"independent"}}},
{"layer":[
{"data":{"name":"c_gpe"},"mark":{"type":"line","color":"#1f7fb6","strokeWidth":1.6,"strokeJoin":"round"},"encoding":{"x":{"field":"t","type":"quantitative","scale":{"domain":[0,200],"range":[61,284],"zero":false,"nice":false},"axis":{"orient":"bottom","offset":-57,"values":[0,100,200],"labelPadding":8,"title":"Time(ms)","titleX":176,"titleY":40}},"y":{"field":"v","type":"quantitative","scale":{"domain":[-100,80],"range":[905,757],"zero":false,"nice":false},"axis":{"orient":"left","offset":-61,"values":[-100,-50,0,50],"labelPadding":8,"title":"V(t)","titleX":-26,"titleY":829}}}},
{"data":{"name":"c_s"},"mark":{"type":"tick","orient":"vertical","color":"#1616dc","thickness":4.6,"size":8.5,"opacity":1},"encoding":{"x":{"field":"t","type":"quantitative","axis":{"orient":"top","offset":-757,"labels":false,"title":"GPe","titleY":-7}},"y":{"datum":-82.8,"axis":{"orient":"right","offset":-901,"labels":false,"title":null}}}}
],"resolve":{"axis":{"x":"independent","y":"independent"}}},
{"layer":[
{"data":{"name":"c_gpi"},"mark":{"type":"line","color":"#1f7fb6","strokeWidth":1.6,"strokeJoin":"round"},"encoding":{"x":{"field":"t","type":"quantitative","scale":{"domain":[0,200],"range":[349,578],"zero":false,"nice":false},"axis":{"orient":"bottom","offset":-54.3,"values":[0,50,100,150,200],"labelPadding":10,"title":"Time(ms)","titleY":47}},"y":{"field":"v","type":"quantitative","scale":{"domain":[-100,80],"range":[907.7,761.7],"zero":false,"nice":false},"axis":{"orient":"left","offset":-349,"values":[-100,-50,0,50],"labelPadding":5.5,"title":"V(t)","titleX":-28,"titleY":836}}}},
{"data":{"name":"c_gpi_s"},"mark":{"type":"tick","orient":"vertical","color":"#1616dc","thickness":4.8,"size":8,"opacity":1},"encoding":{"x":{"field":"t","type":"quantitative","axis":{"orient":"top","offset":-761.7,"labels":false,"title":"GPi","titleY":-3.7}},"y":{"datum":-83.1,"axis":{"orient":"right","offset":-607,"labels":false,"title":null}}}}
],"resolve":{"axis":{"x":"independent","y":"independent"}}},
{"layer":[
{"data":{"name":"d_tr"},"mark":{"type":"line","color":"#111111","strokeWidth":1.4,"strokeJoin":"round"},"encoding":{"x":{"field":"t","type":"quantitative","scale":{"domain":[0,320],"range":[708.5,1164.8],"zero":false,"nice":false},"axis":{"orient":"bottom","offset":-60.3,"values":[0,100,200,300],"labelPadding":8,"labelFontWeight":"normal","labelFontSize":18,"domainColor":"#111111","domainWidth":1.3,"title":"time (ms)","titleFont":"Liberation Serif","titleFontWeight":"normal","titleFontSize":26,"titleX":918,"titleY":46}},"y":{"field":"v","type":"quantitative","scale":{"domain":[-92,68],"range":[901.7,767.3],"zero":false,"nice":false},"axis":{"orient":"left","offset":-708.5,"values":[-50,0,50],"labelPadding":8,"labelFontWeight":"normal","labelFontSize":19,"domainColor":"#111111","domainWidth":1.3,"title":"V (t)","titleFont":"Liberation Serif","titleFontWeight":"normal","titleFontSize":23,"titleAngle":0,"titleAlign":"right","titleBaseline":"middle","titleX":-30,"titleY":824}}}},
{"data":{"name":"d_s"},"mark":{"type":"tick","orient":"vertical","color":"#2a2a80","thickness":2.5,"size":6,"opacity":1},"encoding":{"x":{"field":"t","type":"quantitative","axis":{"orient":"top","offset":-767.3,"labels":false,"domainColor":"#111111","domainWidth":1.3,"title":"GPe,4-State, ChRwt,f=10 Hz","titleFont":"Liberation Serif","titleFontWeight":"normal","titleFontSize":28,"titleX":908,"titleY":-8}},"y":{"datum":-82,"axis":{"orient":"right","offset":-20.2,"labels":false,"domainColor":"#111111","domainWidth":1.3,"title":null}}}},
{"data":{"name":"d_e"},"mark":{"type":"point","shape":"M0,-1C0.1572,-1 0.2846,-0.5523 0.2846,0C0.2846,0.5523 0.1572,1 0,1C-0.1572,1 -0.2846,0.5523 -0.2846,0C-0.2846,-0.5523 -0.1572,-1 0,-1Z","size":15129,"filled":false,"stroke":"#e0212b","strokeWidth":5,"opacity":1},"encoding":{"x":{"field":"t","type":"quantitative","axis":null},"y":{"field":"v","type":"quantitative","axis":null}}}
],"resolve":{"axis":{"x":"independent","y":"independent"}}}
],
"resolve":{"scale":{"x":"independent","y":"independent"},"axis":{"x":"independent","y":"independent"}}
}
